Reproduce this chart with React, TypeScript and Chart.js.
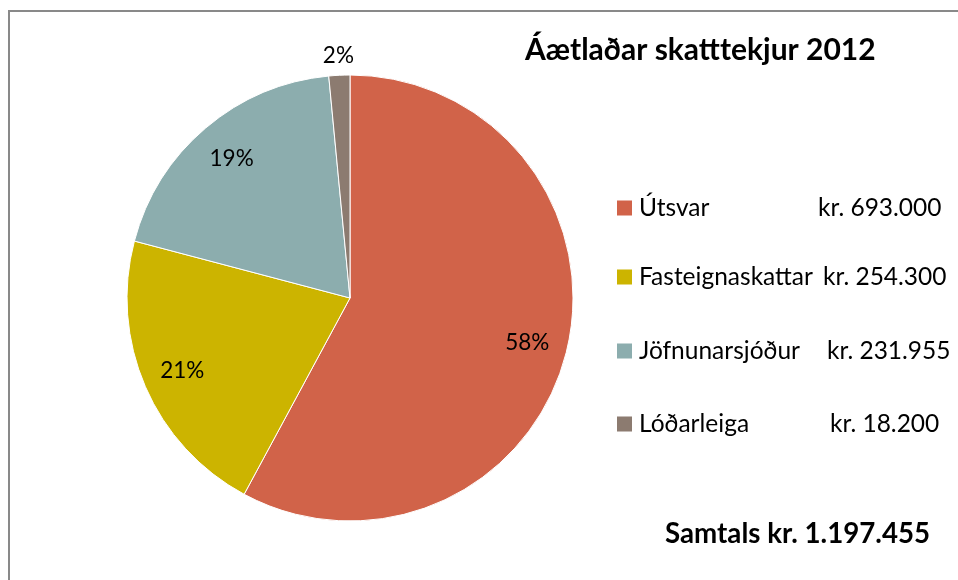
import React, { useEffect, useRef } from "react";
import { Chart, registerables } from "chart.js";

Chart.register(...registerables);

const categories = ["Útsvar", "Fasteignaskattar", "Jöfnunarsjóður", "Lóðarleiga"];
const values = [693000, 254300, 231955, 18200];
const colors = ["#D16349", "#CCB400", "#8CADAE", "#8C7B70"];
const titleText = "Áætlaðar skatttekjur 2012";
const totalPrefix = "Samtals kr. ";

// layout (canvas coords)
const legendValueX = [808, 813, 817, 820];
const legendRowY = [196, 265, 339, 412];

const fmt = (n: number) => String(n).replace(/\B(?=(\d{3})+(?!\d))/g, ".");

const FONT = "Lato, 'Open Sans', sans-serif";

const overlayPlugin = {
  id: "overlay",
  afterDraw(chart: any) {
    const ctx = chart.ctx as CanvasRenderingContext2D;
    const meta = chart.getDatasetMeta(0);
    const total = values.reduce((a, b) => a + b, 0);
    ctx.save();
    // percent labels
    ctx.fillStyle = "#000";
    ctx.font = `22.5px ${FONT}`;
    ctx.textAlign = "center";
    ctx.textBaseline = "middle";
    meta.data.forEach((arc: any, i: number) => {
      const p = values[i] / total;
      const mid = (arc.startAngle + arc.endAngle) / 2;
      const r = p < 0.05 ? arc.outerRadius + 20 : arc.outerRadius * 0.82;
      const x = arc.x + Math.cos(mid) * r;
      const y = arc.y + Math.sin(mid) * r;
      ctx.fillText(Math.round(p * 100) + "%", x, y);
    });
    // title
    ctx.textAlign = "left";
    ctx.textBaseline = "alphabetic";
    ctx.font = `bold 30px ${FONT}`;
    ctx.fillText(titleText, 515, 48);
    // total
    ctx.font = `bold 27.7px ${FONT}`;
    ctx.fillText(totalPrefix + fmt(total), 655, 531);
    // legend
    ctx.font = `24.5px ${FONT}`;
    ctx.textBaseline = "middle";
    categories.forEach((c, i) => {
      const y = legendRowY[i];
      ctx.fillStyle = colors[i];
      ctx.fillRect(607, y - 7.5, 15, 15);
      ctx.fillStyle = "#000";
      ctx.fillText(c, 629, y);
      ctx.fillText("kr. " + fmt(values[i]), legendValueX[i], y);
    });
    ctx.restore();
  },
};

export default function App() {
  const ref = useRef<HTMLCanvasElement | null>(null);
  useEffect(() => {
    if (!ref.current) return;
    const chart = new Chart(ref.current, {
      type: "pie",
      data: {
        labels: categories,
        datasets: [
          {
            data: values,
            backgroundColor: colors,
            borderColor: "#ffffff",
            borderWidth: 1,
            radius: 223,
          } as any,
        ],
      },
      options: {
        animation: false,
        responsive: false,
        maintainAspectRatio: false,
        layout: { padding: { left: 0, right: 268, top: 50, bottom: 46 } },
        plugins: {
          legend: { display: false },
          tooltip: { enabled: false },
          title: { display: false },
        },
      },
      plugins: [overlayPlugin],
    });
    return () => chart.destroy();
  }, []);
  return (
    <div
      style={{
        position: "absolute",
        left: 8,
        top: 10,
        width: 950,
        height: 570,
        boxSizing: "border-box",
        borderTop: "2px solid #898989",
        borderLeft: "2px solid #898989",
        background: "#fff",
        overflow: "hidden",
      }}
    >
      <canvas ref={ref} width={948} height={568} style={{ display: "block" }} />
    </div>
  );
}
